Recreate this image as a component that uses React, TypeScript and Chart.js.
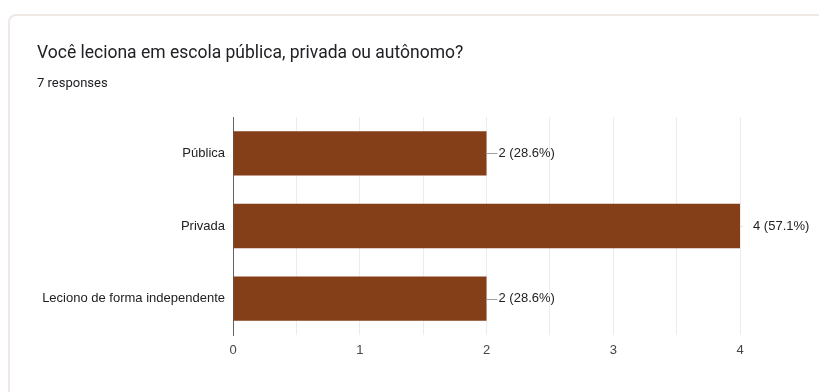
import React, { useEffect, useRef } from "react";
import { Chart, registerables } from "chart.js";

Chart.register(...registerables);

const title = "Você leciona em escola pública, privada ou autônomo?";
const subtitle = "7 responses";
const categories = ["Pública", "Privada", "Leciono de forma independente"];
const counts = [2, 4, 2];
const percents = ["28.6%", "57.1%", "28.6%"];
const xTicks = [0, 1, 2, 3, 4];

const BAR = "#843f18";
const FONT = "'Liberation Sans', Arial, sans-serif";

const labelPlugin = {
  id: "valueLabels",
  afterDatasetsDraw(chart: any) {
    const ctx = chart.ctx;
    const meta = chart.getDatasetMeta(0);
    const right = chart.chartArea.right;
    ctx.save();
    ctx.font = `13px ${FONT}`;
    ctx.textBaseline = "middle";
    ctx.textAlign = "left";
    meta.data.forEach((bar: any, i: number) => {
      const x = bar.x;
      const y = bar.y;
      const atEdge = Math.abs(x - right) < 1;
      ctx.strokeStyle = atEdge ? "#e4e4e4" : "#a0a0a0";
      ctx.lineWidth = 1;
      ctx.beginPath();
      ctx.moveTo(x, Math.round(y) + 0.5);
      ctx.lineTo(x + (atEdge ? 3 : 11), Math.round(y) + 0.5);
      ctx.stroke();
      ctx.fillStyle = "#222222";
      ctx.fillText(`${counts[i]} (${percents[i]})`, x + (atEdge ? 13 : 12), y);
    });
    ctx.restore();
  },
};

export default function App() {
  const ref = useRef<HTMLCanvasElement | null>(null);
  useEffect(() => {
    if (!ref.current) return;
    const chart = new Chart(ref.current, {
      type: "bar",
      data: {
        labels: categories,
        datasets: [
          {
            data: counts,
            backgroundColor: BAR,
            borderWidth: 0,
            barPercentage: 0.61,
            categoryPercentage: 1,
          },
        ],
      },
      options: {
        indexAxis: "y",
        animation: false,
        responsive: false,
        maintainAspectRatio: false,
        layout: { padding: { top: 117, right: 79, left: 0, bottom: 0 } },
        plugins: { legend: { display: false }, tooltip: { enabled: false } },
        scales: {
          x: {
            min: xTicks[0],
            max: xTicks[xTicks.length - 1],
            afterFit: (s: any) => {
              s.height = 392 - 335;
            },
            afterBuildTicks: (s: any) => {
              const t: any[] = [];
              for (let v = xTicks[0]; v <= xTicks[xTicks.length - 1] + 1e-9; v += 0.5) t.push({ value: v });
              s.ticks = t;
            },
            ticks: {
              padding: 8,
              color: "#444444",
              font: { family: FONT, size: 13 },
              callback: (v: any) => (Number.isInteger(v) && xTicks.includes(v) ? String(v) : ""),
            },
            grid: {
              drawTicks: false,
              color: (c: any) => (c.tick && c.tick.value === 0 ? "rgba(0,0,0,0)" : "#ececec"),
            },
            border: { display: false },
          },
          y: {
            afterFit: (s: any) => {
              s.width = 233;
            },
            ticks: {
              padding: 8,
              color: "#222222",
              font: { family: FONT, size: 13 },
            },
            grid: { display: false, drawTicks: false },
            border: { display: true, color: "#616161", width: 1 },
          },
        },
      },
      plugins: [labelPlugin],
    });
    return () => chart.destroy();
  }, []);

  return (
    <div style={{ position: "fixed", left: 0, top: 0, width: 819, height: 392, background: "#ffffff", overflow: "hidden" }}>
      <div
        style={{
          position: "absolute",
          left: 8,
          top: 14,
          width: 840,
          height: 420,
          border: "2px solid #f0e8e4",
          borderRadius: 8,
          background: "#fff",
          boxSizing: "border-box",
        }}
      />
      <canvas ref={ref} width={819} height={392} style={{ position: "absolute", left: 0, top: 0 }} />
      <div
        style={{
          position: "absolute",
          left: 37,
          top: 42,
          fontFamily: "Roboto, 'Noto Sans', sans-serif",
          fontSize: 17.5,
          lineHeight: "20px",
          color: "#202124",
          whiteSpace: "nowrap",
        }}
      >
        {title}
      </div>
      <div
        style={{
          position: "absolute",
          left: 37,
          top: 74.5,
          fontFamily: "Roboto, 'Noto Sans', sans-serif",
          fontSize: 13,
          lineHeight: "16px",
          color: "#202124",
          whiteSpace: "nowrap",
        }}
      >
        {subtitle}
      </div>
    </div>
  );
}
